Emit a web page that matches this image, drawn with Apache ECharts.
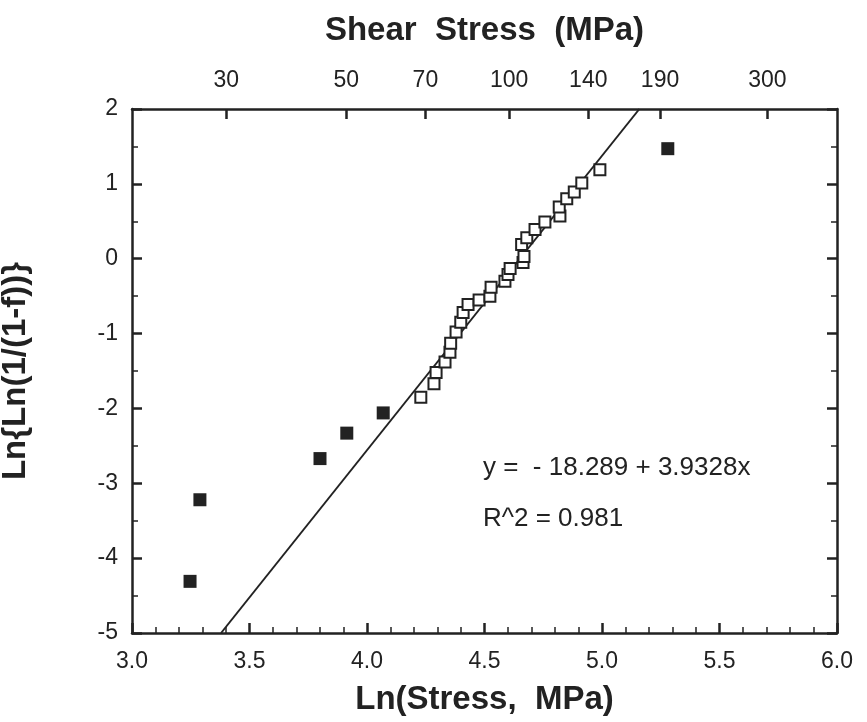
<!DOCTYPE html>
<html>
<head>
<meta charset="utf-8">
<script src="https://cdn.jsdelivr.net/npm/echarts@6/dist/echarts.min.js"></script>
<style>
html, body { margin: 0; padding: 0; background: #fff; }
#chart { width: 867px; height: 722px; }
</style>
</head>
<body>
<div id="chart"></div>
<script>
// ln(stress) vs ln(ln(1/(1-f))), open squares = fitted points
var openX = [4.229, 4.285, 4.294, 4.332, 4.353, 4.356, 4.379, 4.399, 4.409, 4.430,
             4.477, 4.523, 4.528, 4.587, 4.600, 4.609, 4.664, 4.668, 4.658, 4.680,
             4.715, 4.757, 4.821, 4.818, 4.850, 4.882, 4.914, 4.991];
var openY = [-1.85, -1.67, -1.52, -1.38, -1.25, -1.13, -0.98, -0.85, -0.72, -0.61,
             -0.55, -0.50, -0.38, -0.30, -0.21, -0.13, -0.05, 0.03, 0.19, 0.28,
             0.39, 0.49, 0.57, 0.69, 0.80, 0.89, 1.01, 1.19];
// filled squares = excluded points
var filledX = [3.247, 3.289, 3.800, 3.914, 4.069, 5.280];
var filledY = [-4.31, -3.22, -2.67, -2.33, -2.06, 1.47];

var fitIntercept = -18.289;
var fitSlope = 3.9328;
var fitR2 = 0.981;

var shearLabels = [30, 50, 70, 100, 140, 190, 300];

var xMin = 3, xMax = 6, yMin = -5, yMax = 2;

function pairs(xs, ys) {
  return xs.map(function (x, i) { return [x, ys[i]]; });
}
// fit line clipped to the y range
var fitLine = [
  [(yMin - fitIntercept) / fitSlope, yMin],
  [(yMax - fitIntercept) / fitSlope, yMax]
];
var shearLn = shearLabels.map(function (v) { return Math.log(v); });

var ink = '#222';
var font = "'Liberation Sans', Arial, sans-serif";
var titleStyle = {fontFamily: font, fontWeight: 'bold', fontSize: 33, color: ink};
var lineStyle = {color: ink, width: 2.5};
var minorStyle = {color: ink, width: 1.5};

var chart = echarts.init(document.getElementById('chart'), null, {renderer: 'canvas'});
var option = {
  animation: false,
  backgroundColor: '#fff',
  grid: {left: 132, top: 109, width: 705, height: 524, outerBoundsMode: 'none', containLabel: false},
  xAxis: [
    {
      type: 'value', position: 'bottom', min: xMin, max: xMax, interval: 0.5,
      name: 'Ln(Stress,  MPa)', nameLocation: 'middle', nameGap: 50,
      nameTextStyle: titleStyle,
      axisLine: {show: true, onZero: false, lineStyle: lineStyle},
      axisTick: {show: true, inside: true, length: 10, lineStyle: lineStyle},
      minorTick: {show: true, splitNumber: 5, length: 6, lineStyle: minorStyle},
      axisLabel: {margin: 17, fontFamily: font, fontSize: 23, color: ink,
        formatter: function (v) { return v.toFixed(1); }},
      splitLine: {show: false}
    },
    {
      type: 'value', position: 'top', min: xMin, max: xMax,
      name: 'Shear  Stress  (MPa)', nameLocation: 'middle', nameGap: 62,
      nameTextStyle: titleStyle,
      axisLine: {show: true, onZero: false, lineStyle: lineStyle},
      axisTick: {show: true, inside: true, length: 10, customValues: shearLn, lineStyle: lineStyle},
      axisLabel: {margin: 17, fontFamily: font, fontSize: 23, color: ink, customValues: shearLn,
        formatter: function (v) { return String(Math.round(Math.exp(v))); }},
      splitLine: {show: false}
    }
  ],
  yAxis: [
    {
      type: 'value', position: 'left', min: yMin, max: yMax, interval: 1,
      name: 'Ln{Ln(1/(1-f))}', nameLocation: 'middle', nameGap: 100, nameRotate: 90,
      nameTextStyle: titleStyle,
      axisLine: {show: true, onZero: false, lineStyle: lineStyle},
      axisTick: {show: true, inside: true, length: 10, lineStyle: lineStyle},
      minorTick: {show: true, splitNumber: 2, length: 6, lineStyle: minorStyle},
      axisLabel: {margin: 14, fontFamily: font, fontSize: 23, color: ink},
      splitLine: {show: false}
    },
    {
      type: 'value', position: 'right', min: yMin, max: yMax, interval: 1,
      axisLine: {show: true, onZero: false, lineStyle: lineStyle},
      axisTick: {show: true, inside: true, length: 10, lineStyle: lineStyle},
      minorTick: {show: true, splitNumber: 2, length: 6, lineStyle: minorStyle},
      axisLabel: {show: false},
      splitLine: {show: false}
    }
  ],
  series: [
    {
      type: 'line', data: fitLine, showSymbol: false, symbol: 'none',
      lineStyle: {color: ink, width: 2}, z: 2, silent: true
    },
    {
      type: 'scatter', data: pairs(openX, openY), symbol: 'rect', symbolSize: 11,
      itemStyle: {color: '#fff', borderColor: ink, borderWidth: 2, opacity: 1}, z: 3
    },
    {
      type: 'scatter', data: pairs(filledX, filledY), symbol: 'rect', symbolSize: 13,
      itemStyle: {color: ink, opacity: 1}, z: 4
    }
  ],
  graphic: [
    {type: 'text', left: 483, top: 455,
      style: {text: 'y =  - ' + Math.abs(fitIntercept).toFixed(3) + ' + ' + fitSlope.toFixed(4) + 'x',
        fontFamily: font, fontSize: 26, fill: ink}},
    {type: 'text', left: 483, top: 506,
      style: {text: 'R^2 = ' + fitR2.toFixed(3), fontFamily: font, fontSize: 26, fill: ink}}
  ]
};
chart.setOption(option);
</script>
</body>
</html>
